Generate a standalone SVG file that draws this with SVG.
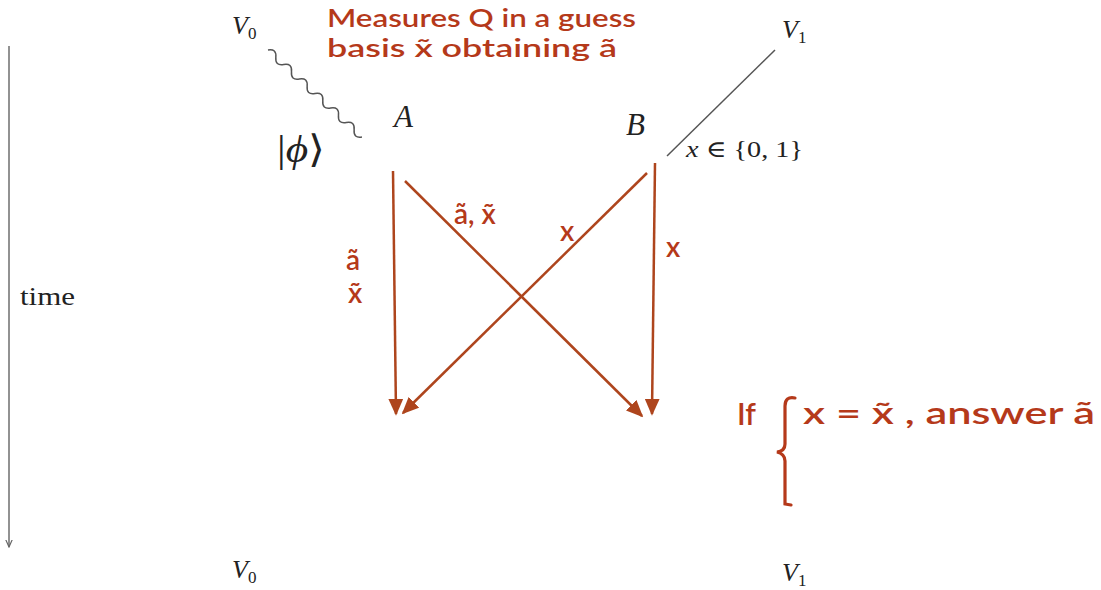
<svg xmlns="http://www.w3.org/2000/svg" width="1101" height="590" viewBox="0 0 1101 590">
<style>
.math{font-family:"Liberation Serif","DejaVu Serif",serif;fill:#222}
.mi{font-style:italic}
.red{font-family:"Lato","DejaVu Sans",sans-serif;fill:#b5391a;font-weight:600}
.arr{stroke:#ae451d;stroke-width:2.5;fill:none;marker-end:url(#ah)}
.gray{stroke:#555;fill:none;stroke-width:1.5}
</style>
<defs>
<marker id="ah" viewBox="0 0 10 10" refX="9" refY="5" markerWidth="17" markerHeight="15" orient="auto" markerUnits="userSpaceOnUse" preserveAspectRatio="none">
<path d="M0,0 L10,5 L0,10 z" fill="#ae451d"/>
</marker>
<marker id="ch" viewBox="0 0 10 10" refX="9" refY="5" markerWidth="8" markerHeight="8" orient="auto" markerUnits="userSpaceOnUse">
<path d="M0,1 L9,5 L0,9" fill="none" stroke="#666" stroke-width="1.5"/>
</marker>
</defs>
<rect width="1101" height="590" fill="#fff"/>
<g id="time-axis">
<line x1="9" y1="46" x2="9" y2="547" stroke="#777" stroke-width="1.6" marker-end="url(#ch)"/>
<text class="math" x="20" y="305" font-size="25" textLength="55" lengthAdjust="spacingAndGlyphs">time</text>
</g>
<g id="V0top"><text class="math" x="232" y="34" font-size="26"><tspan class="mi">V</tspan><tspan font-size="17" dy="5">0</tspan></text></g>
<g id="V1top"><text class="math" x="782" y="38" font-size="26"><tspan class="mi">V</tspan><tspan font-size="17" dy="5">1</tspan></text></g>
<g id="V0bot"><text class="math" x="232" y="578" font-size="26"><tspan class="mi">V</tspan><tspan font-size="17" dy="5">0</tspan></text></g>
<g id="V1bot"><text class="math" x="782" y="581" font-size="26"><tspan class="mi">V</tspan><tspan font-size="17" dy="5">1</tspan></text></g>
<g id="phi"><text class="math" x="277" y="162" font-size="38" textLength="48" lengthAdjust="spacingAndGlyphs">|<tspan class="mi">ϕ</tspan>⟩</text></g>
<g id="A"><text class="math mi" x="394" y="127" font-size="31">A</text></g>
<g id="B"><text class="math mi" x="626" y="135" font-size="31">B</text></g>
<g id="xset"><text class="math" x="686" y="157" font-size="23" textLength="117" lengthAdjust="spacingAndGlyphs"><tspan class="mi">x</tspan> ∈ {0, 1}</text></g>
<g id="note-top">
<text class="red" x="327" y="27" font-size="25" textLength="309" lengthAdjust="spacingAndGlyphs">Measures Q in a guess</text>
<text class="red" x="327" y="57" font-size="25" textLength="290" lengthAdjust="spacingAndGlyphs">basis x̃ obtaining ã</text>
</g>
<g id="note-right">
<text class="red" x="737" y="425" font-size="30">If</text>
<path d="M795,398 Q785,396 785,406 L785,444 Q785,451 777,452 Q785,454 785,461 L785,504 L791,505" fill="none" stroke="#b5391a" stroke-width="3.2" stroke-linecap="round"/>
<text class="red" x="803" y="424" font-size="30" textLength="292" lengthAdjust="spacingAndGlyphs">x = x̃ , answer  ã</text>
</g>
<g id="connectors">
<path class="gray" stroke-width="1.5" d="M268,50 q8.68,-1.51 7.83,7.25 t7.83,7.25 t7.83,7.25 t7.83,7.25 t7.83,7.25 t7.83,7.25 t7.83,7.25 t7.83,7.25 t7.83,7.25 t7.83,7.25 t7.83,7.25 t7.83,7.25"/>
<line class="gray" x1="775" y1="50" x2="667" y2="156"/>
<line class="arr" x1="393" y1="171" x2="396" y2="414"/>
<line class="arr" x1="405" y1="181" x2="642" y2="416"/>
<line class="arr" x1="647" y1="173" x2="403" y2="413"/>
<line class="arr" x1="655" y1="163" x2="652" y2="414"/>
</g>
<g id="labels">
<text class="red" x="346" y="270" font-size="28">ã</text>
<text class="red" x="348" y="303" font-size="28">x̃</text>
<text class="red" x="454" y="224" font-size="28">ã, x̃</text>
<text class="red" x="560" y="241" font-size="28">x</text>
<text class="red" x="666" y="257" font-size="28">x</text>
</g>
</svg>
